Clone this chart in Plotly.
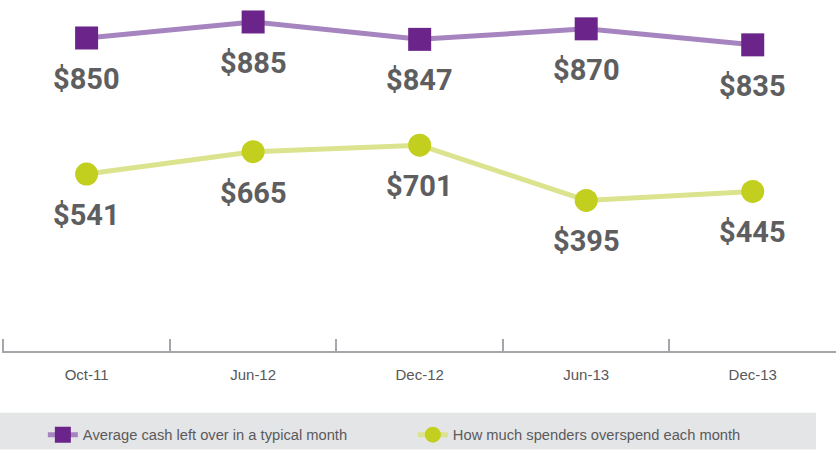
import plotly.graph_objects as go

categories = ["Oct-11", "Jun-12", "Dec-12", "Jun-13", "Dec-13"]
cash_left = [850, 885, 847, 870, 835]
overspend = [541, 665, 701, 395, 445]
series_names = ["Average cash left over in a typical month",
                "How much spenders overspend each month"]

PURPLE = "#6B2489"
PURPLE_LINE = "#A584C0"
GREEN = "#C2CF1E"
GREEN_LINE = "#DCE38E"
LABEL = "#5E5E60"

fig = go.Figure()
fig.add_trace(go.Scatter(
    x=categories, y=cash_left, name=series_names[0], mode="lines+markers",
    line=dict(color=PURPLE_LINE, width=5),
    marker=dict(symbol="square", size=23, color=PURPLE),
    yaxis="y", hoverinfo="x+y"))
fig.add_trace(go.Scatter(
    x=categories, y=overspend, name=series_names[1], mode="lines+markers",
    line=dict(color=GREEN_LINE, width=5),
    marker=dict(symbol="circle", size=23, color=GREEN),
    yaxis="y2", hoverinfo="x+y"))

label_font = dict(family="Roboto", size=29, color=LABEL, weight="bold")
for c, v in zip(categories, cash_left):
    fig.add_annotation(x=c, y=v, yref="y", text=f"${v}", showarrow=False,
                       yshift=-41, font=label_font)
for c, v in zip(categories, overspend):
    fig.add_annotation(x=c, y=v, yref="y2", text=f"${v}", showarrow=False,
                       yshift=-41, font=label_font)

fig.add_shape(type="rect", xref="paper", yref="paper",
              x0=-0.0036, x1=0.976, y0=-0.1756, y1=-0.2805,
              fillcolor="#E4E5E7", line=dict(width=0), layer="below")

fig.update_layout(
    width=836, height=452,
    margin=dict(l=2, r=0, t=0, b=99),
    paper_bgcolor="white", plot_bgcolor="white",
    showlegend=True,
    legend=dict(orientation="h", x=0.049, y=-0.1926, xanchor="left", yanchor="top",
                bgcolor="rgba(0,0,0,0)", entrywidth=325, entrywidthmode="pixels",
                font=dict(family="Liberation Sans", size=14.7, color="#5A5A5C")),
    xaxis=dict(type="category", range=[-0.508, 4.5], tickson="boundaries",
               ticks="inside", ticklen=12, tickwidth=2, tickcolor="#A6A6AA",
               showline=True, linecolor="#A6A6AA", linewidth=2,
               showgrid=False, zeroline=False, ticklabelstandoff=9,
               tickfont=dict(family="Liberation Sans", size=15, color="#58585B")),
    yaxis=dict(range=[166, 933], visible=False, showgrid=False, zeroline=False),
    yaxis2=dict(range=[-439, 1505], visible=False, overlaying="y", showgrid=False, zeroline=False),
)

fig.write_html("out.html", config={"displayModeBar": False},
               post_script="document.body.style.margin='0';")
